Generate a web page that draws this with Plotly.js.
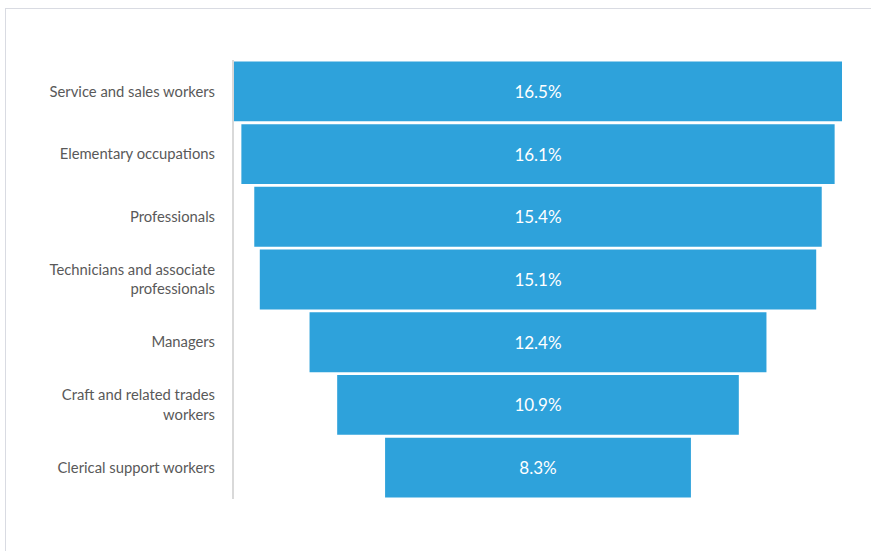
<!DOCTYPE html>
<html>
<head>
<meta charset="utf-8">
<script src="https://cdn.plot.ly/plotly-3.0.1.min.js"></script>
<style>
html,body{margin:0;padding:0;background:#fff;}
#wrap{position:relative;width:871px;height:551px;overflow:hidden;}
#frame{position:absolute;left:5px;top:8px;width:900px;height:600px;border-left:1.5px solid #d9dbe2;border-top:1.5px solid #d9dbe2;box-sizing:border-box;}
#chart{position:absolute;left:0;top:0;width:871px;height:551px;}
</style>
</head>
<body>
<div id="wrap">
<div id="frame"></div>
<div id="chart"></div>
</div>
<script>
const categories = [
  "Service and sales workers",
  "Elementary occupations",
  "Professionals",
  "Technicians and associate<br>professionals",
  "Managers",
  "Craft and related trades<br>workers",
  "Clerical support workers"
];
const values = [16.5, 16.1, 15.4, 15.1, 12.4, 10.9, 8.3];

const trace = {
  type: 'funnel',
  y: categories,
  x: values,
  texttemplate: '%{x:.1f}%',
  textposition: 'inside',
  insidetextanchor: 'middle',
  textfont: {family: 'Lato, "Open Sans", sans-serif', size: 17, color: '#ffffff'},
  marker: {color: '#2EA2DB', line: {width: 0}},
  connector: {visible: false},
  hoverinfo: 'none'
};

const layout = {
  width: 871,
  height: 551,
  margin: {l: 234, r: 29, t: 60, b: 52},
  paper_bgcolor: 'rgba(0,0,0,0)',
  plot_bgcolor: 'rgba(0,0,0,0)',
  showlegend: false,
  funnelgap: 0.045,
  xaxis: {range: [-8.25, 8.25], visible: false, fixedrange: true},
  yaxis: {
    autorange: 'reversed',
    showline: true,
    linecolor: '#d9d9d9',
    linewidth: 2,
    showgrid: false,
    ticks: '',
    ticklabelstandoff: 14,
    tickfont: {family: 'Lato, "Open Sans", sans-serif', size: 14.8, color: '#595959'},
    fixedrange: true
  }
};

Plotly.newPlot('chart', [trace], layout, {displayModeBar: false, staticPlot: true});
</script>
</body>
</html>
